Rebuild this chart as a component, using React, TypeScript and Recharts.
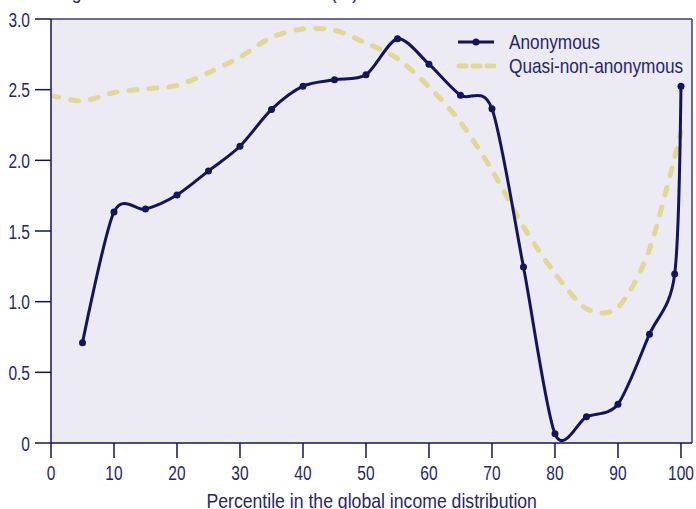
import React from 'react';
import {
  LineChart,
  Line,
  XAxis,
  YAxis,
  CartesianGrid,
  ReferenceLine,
} from 'recharts';

const NAVY = '#13135e';
const TEXT = '#26266c';
const KHAKI = '#e0d896';
const BG = '#ecebf3';
const FONT = '"Liberation Sans", Arial, sans-serif';

// percentiles of the global income distribution
const anonPercentiles = [5, 10, 15, 20, 25, 30, 35, 40, 45, 50, 55, 60, 65, 70, 75, 80, 85, 90, 95, 99, 100];
const anonGrowth = [0.71, 1.635, 1.655, 1.755, 1.925, 2.1, 2.36, 2.525, 2.57, 2.605, 2.86, 2.68, 2.46, 2.365, 1.245, 0.065, 0.185, 0.275, 0.77, 1.195, 2.525];

const quasiPercentiles = [0, 5, 10, 15, 20, 25, 30, 35, 40, 45, 50, 55, 60, 65, 70, 75, 80, 85, 90, 95, 100];
const quasiGrowth = [2.46, 2.42, 2.48, 2.505, 2.53, 2.62, 2.73, 2.87, 2.93, 2.92, 2.83, 2.72, 2.52, 2.27, 1.93, 1.53, 1.2, 0.95, 0.96, 1.37, 2.2];

const xTicks = [0, 10, 20, 30, 40, 50, 60, 70, 80, 90, 100];
const yTicks = [0, 0.5, 1, 1.5, 2, 2.5, 3];

const anonData = anonPercentiles.map((p, i) => ({ p, v: anonGrowth[i] }));
const quasiData = quasiPercentiles.map((p, i) => ({ p, v: quasiGrowth[i] }));

const X_MAX = 101.75;

// cardinal smoothing with a little tension (less overshoot than plain Catmull-Rom)
function smoothCurve(context: any) {
  const k = 0.14;
  let x0 = NaN, x1 = NaN, x2 = NaN, y0 = NaN, y1 = NaN, y2 = NaN;
  let pt = 0;
  let line = NaN;
  const bez = (x: number, y: number) => {
    context.bezierCurveTo(
      x1 + k * (x2 - x0), y1 + k * (y2 - y0),
      x2 + k * (x1 - x), y2 + k * (y1 - y),
      x2, y2
    );
  };
  return {
    areaStart() { line = 0; },
    areaEnd() { line = NaN; },
    lineStart() { x0 = x1 = x2 = y0 = y1 = y2 = NaN; pt = 0; },
    lineEnd() {
      switch (pt) {
        case 2: context.lineTo(x2, y2); break;
        case 3: bez(x1, y1); break;
      }
      if (line || (line !== 0 && pt === 1)) context.closePath();
      line = 1 - line;
    },
    point(x: number, y: number) {
      x = +x; y = +y;
      switch (pt) {
        case 0: pt = 1; line ? context.lineTo(x, y) : context.moveTo(x, y); break;
        case 1: pt = 2; x1 = x; y1 = y; break;
        case 2: pt = 3; // falls through
        default: bez(x, y); break;
      }
      x0 = x1; x1 = x2; x2 = x;
      y0 = y1; y1 = y2; y2 = y;
    },
  };
}

// condensed look: squeeze the glyphs horizontally
function XTick({ x, y, payload }: any) {
  return (
    <g transform={`translate(${x},${y})`}>
      <text transform="scale(0.74,1)" textAnchor="middle" dy="0.71em" fill={TEXT} fontSize={21} fontFamily={FONT}>
        {payload.value}
      </text>
    </g>
  );
}

function YTick({ x, y, payload }: any) {
  const v = payload.value as number;
  return (
    <g transform={`translate(${x},${y})`}>
      <text transform="scale(0.74,1)" textAnchor="end" dy="0.36em" fill={TEXT} fontSize={21} fontFamily={FONT}>
        {v === 0 ? '0' : v.toFixed(1)}
      </text>
    </g>
  );
}

const squeeze = (s: number, origin: string) =>
  ({ display: 'inline-block', transform: `scaleX(${s})`, transformOrigin: origin } as const);

function LegendBox() {
  const row = { display: 'flex', alignItems: 'center', height: 24 } as const;
  return (
    <div style={{ position: 'absolute', left: 456, top: 30, fontFamily: FONT, fontSize: 21, lineHeight: '24px', color: TEXT, whiteSpace: 'nowrap' }}>
      <div style={row}>
        <svg width={40} height={12} style={{ marginRight: 13 }}>
          <line x1={2} y1={6} x2={38} y2={6} stroke={NAVY} strokeWidth={3} />
          <circle cx={20} cy={6} r={3.5} fill={NAVY} />
        </svg>
        <span style={squeeze(0.82, 'left')}>Anonymous</span>
      </div>
      <div style={row}>
        <svg width={40} height={12} style={{ marginRight: 13 }}>
          <line x1={3} y1={6} x2={38} y2={6} stroke={KHAKI} strokeWidth={5} strokeDasharray="7 7" strokeLinecap="round" />
        </svg>
        <span style={squeeze(0.82, 'left')}>Quasi-non-anonymous</span>
      </div>
    </div>
  );
}

export default function App() {
  return (
    <div style={{ position: 'absolute', left: 0, top: 0, width: 696, height: 509, overflow: 'hidden', background: '#fff' }}>
      <LineChart width={696} height={509} margin={{ top: 19, right: 4, bottom: 0, left: 0 }}>
        <CartesianGrid horizontal={false} vertical={false} fill={BG} />
        <XAxis
          type="number"
          dataKey="p"
          domain={[0, X_MAX]}
          ticks={xTicks}
          allowDataOverflow
          height={66}
          tickSize={15}
          tickMargin={7}
          stroke={NAVY}
          strokeWidth={1.5}
          tick={<XTick />}
        />
        <YAxis
          type="number"
          domain={[0, 3]}
          ticks={yTicks}
          width={51}
          tickSize={16}
          tickMargin={5}
          stroke={NAVY}
          strokeWidth={1.5}
          tick={<YTick />}
        />
        <ReferenceLine y={3} stroke="#3b3b7d" strokeWidth={1.5} />
        <ReferenceLine x={X_MAX} stroke="#3b3b7d" strokeWidth={1.5} />
        <Line
          data={quasiData}
          dataKey="v"
          type={smoothCurve as any}
          stroke={KHAKI}
          strokeWidth={5}
          strokeDasharray="8 12"
          strokeLinecap="round"
          dot={false}
          activeDot={false}
          isAnimationActive={false}
        />
        <Line
          data={anonData}
          dataKey="v"
          type={smoothCurve as any}
          stroke={NAVY}
          strokeWidth={3}
          dot={{ r: 3.5, fill: NAVY, stroke: NAVY, strokeWidth: 0 }}
          activeDot={false}
          isAnimationActive={false}
        />
      </LineChart>
      {/* title above the plot, mostly outside the frame as in the source */}
      <div style={{ position: 'absolute', left: 12, top: -19, fontFamily: FONT, fontSize: 21, lineHeight: '21px', color: TEXT, whiteSpace: 'nowrap' }}>
        <span style={squeeze(0.84, 'left')}>Annual growth in real household income (%)</span>
      </div>
      <div style={{ position: 'absolute', left: 51, width: 641, top: 490, textAlign: 'center', fontFamily: FONT, fontSize: 21, lineHeight: '21px', color: TEXT, whiteSpace: 'nowrap' }}>
        <span style={squeeze(0.84, 'center')}>Percentile in the global income distribution</span>
      </div>
      <LegendBox />
    </div>
  );
}
